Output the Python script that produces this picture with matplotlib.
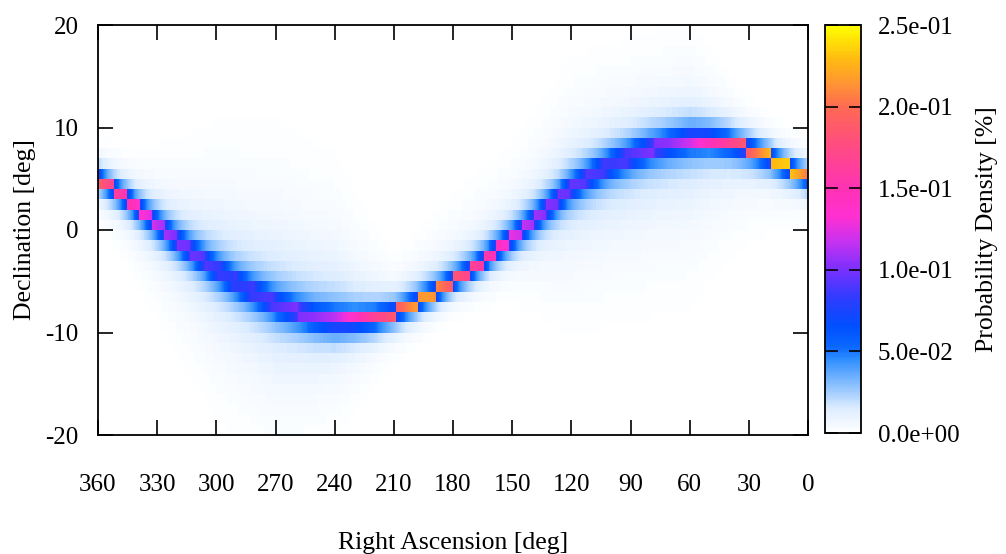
import numpy as np
import matplotlib
matplotlib.use("Agg")
import matplotlib.pyplot as plt
from matplotlib.colors import LinearSegmentedColormap

# ---------------- data ----------------
# ridge of the distribution: declination of the most probable track per RA node
ridge_ra = [0, 10, 20, 30, 40, 50, 60, 70, 80, 90, 100, 110, 120, 130, 140, 150, 160, 170, 180,
            190, 200, 210, 220, 230, 240, 250, 260, 270, 280, 290, 300, 310, 320, 330, 340, 350, 360]
ridge_dec = [5.1, 6.1, 7.1, 7.9, 8.5, 8.8, 8.8, 8.4, 7.9, 7.2, 6.4, 5.3, 4.1, 2.5, 0.8, -0.8, -2.3, -3.8, -5.0,
             -6.2, -7.2, -8.1, -8.6, -8.8, -8.8, -8.5, -7.9, -7.2, -6.2, -5.1, -3.8, -2.5, -1.0, 0.6, 2.2, 3.7, 5.1]
# probability density [%] on the ridge cells
ridge_peak = [0.205, 0.235, 0.225, 0.19, 0.165, 0.145, 0.12, 0.105, 0.10, 0.09, 0.085, 0.09, 0.095, 0.10,
              0.11, 0.125, 0.15, 0.165, 0.185, 0.215, 0.215, 0.185, 0.165, 0.14, 0.115, 0.105, 0.10, 0.09,
              0.085, 0.08, 0.085, 0.095, 0.10, 0.115, 0.14, 0.16, 0.19]

# diffuse halo around the ridge (extent above / below the ridge in deg, level)
halo_ra = [0, 30, 60, 90, 120, 150, 180, 210, 240, 270, 300, 330, 360]
halo_up = [1.5, 3.0, 7.0, 7.0, 8.0, 6.0, 6.0, 4.0, 10.0, 11.0, 9.0, 5.0, 1.5]
halo_down = [3.0, 6.0, 10.0, 10.0, 9.0, 4.0, 1.5, 3.0, 7.0, 10.0, 9.0, 6.0, 3.0]
halo_level = [0.02, 0.028, 0.036, 0.036, 0.033, 0.03, 0.024, 0.026, 0.036, 0.036, 0.034, 0.03, 0.02]

ra_ticks = [360, 330, 300, 270, 240, 210, 180, 150, 120, 90, 60, 30, 0]
dec_ticks = [-20, -10, 0, 10, 20]
cbar_ticks = [0.0, 0.05, 0.10, 0.15, 0.20, 0.25]

# ---------------- build the density map ----------------
ra_edges = np.linspace(0, 360, 721)
ra_c = 0.5 * (ra_edges[:-1] + ra_edges[1:])
dec_edges = np.arange(-20, 21, 1)

curve = np.interp(ra_c, ridge_ra, ridge_dec)
peak = np.interp(ra_c, ridge_ra, ridge_peak)
h_up = np.interp(ra_c, halo_ra, halo_up)
h_dn = np.interp(ra_c, halo_ra, halo_down)
h_lv = np.interp(ra_c, halo_ra, halo_level)

core, lam = 0.058, 0.85
Z = np.zeros((len(dec_edges) - 1, len(ra_c)))
for i, lo in enumerate(dec_edges[:-1]):
    hi = lo + 1
    d_edge = np.maximum(lo - curve, 0) + np.maximum(curve - hi, 0)
    inside = d_edge == 0
    delta = (lo + 0.5) - curve
    w = np.where(delta > 0, h_up, h_dn) / 2.2
    halo = h_lv * np.exp(-np.abs(delta) / w)
    val = core * np.exp(-d_edge / lam) + halo
    Z[i] = np.where(inside, peak, val)
Z = np.clip(Z, 0, 0.25)

# ---------------- colormap ----------------
stops = [(0.00, "#ffffff"), (0.06, "#dcecff"), (0.12, "#84bdff"), (0.18, "#2e8eff"),
         (0.21, "#0a68ff"), (0.26, "#0050ff"), (0.33, "#2e3cff"), (0.40, "#7a30ff"),
         (0.47, "#c832f0"), (0.53, "#ff30d2"), (0.60, "#ff32b4"), (0.70, "#ff4a84"),
         (0.80, "#ff6a52"), (0.86, "#ff9632"), (0.92, "#ffbc10"), (1.00, "#ffff00")]
cmap = LinearSegmentedColormap.from_list("pd", stops)

# ---------------- figure ----------------
plt.rcParams["font.family"] = ["Liberation Serif", "DejaVu Serif"]
plt.rcParams["axes.unicode_minus"] = False
fig = plt.figure(figsize=(10.06, 5.54), dpi=100)
ax = fig.add_axes([98 / 1006, 119 / 554, 710 / 1006, 410 / 554])
cax = fig.add_axes([825 / 1006, 121 / 554, 36 / 1006, 408 / 554])

mesh = ax.pcolormesh(ra_edges, dec_edges, Z, cmap=cmap, vmin=0, vmax=0.25,
                     shading="flat", rasterized=True)
ax.set_xlim(360, 0)
ax.set_ylim(-20, 20)
ax.set_xticks(ra_ticks)
ax.set_yticks(dec_ticks)
ax.tick_params(axis="both", direction="in", length=11, width=1.2, top=True, right=True,
               labelsize=18, colors="black")
ax.tick_params(axis="x", pad=28)
ax.tick_params(axis="y", pad=14)
for s in ax.spines.values():
    s.set_linewidth(1.3)
ax.set_xlabel("Right Ascension [deg]", fontsize=18.5, labelpad=26)
ax.set_ylabel("Declination [deg]", fontsize=18.5, labelpad=7)

cb = fig.colorbar(mesh, cax=cax, ticks=cbar_ticks)
cb.outline.set_linewidth(1.3)
cax.tick_params(direction="in", length=9, width=1.2, labelsize=18, pad=12,
                left=True, right=True)
cax.yaxis.set_major_formatter(matplotlib.ticker.FuncFormatter(lambda v, p: "%.1e" % v))
cb.set_label("Probability Density [%]", fontsize=18.5, labelpad=12)

fig.savefig("out.png", dpi=100)
